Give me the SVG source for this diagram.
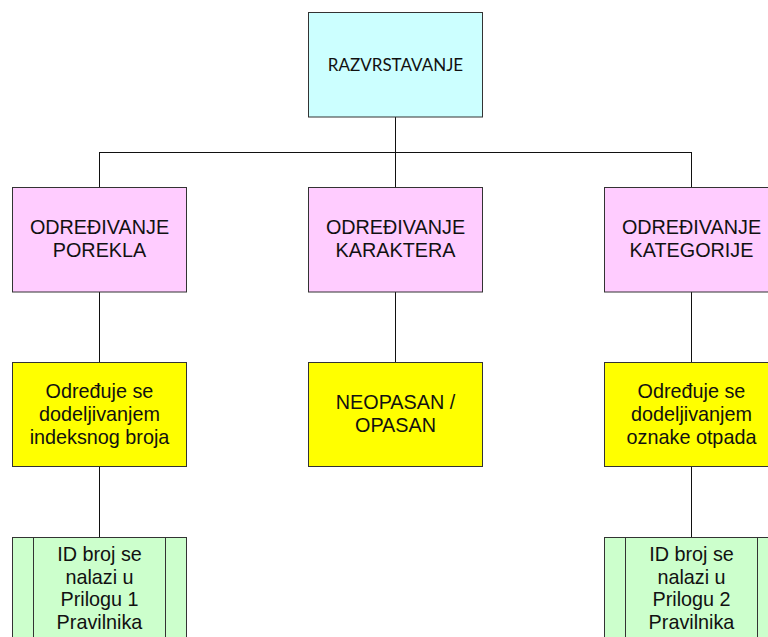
<svg xmlns="http://www.w3.org/2000/svg" width="768" height="637" viewBox="0 0 768 637">
<style>
.box{stroke:#333;stroke-width:1}
.cyan{fill:#CCFFFF}
.pink{fill:#FFCCFF}
.yellow{fill:#FFFF00}
.green{fill:#CCFFCC}
.t{font-family:"Liberation Sans",Arial,sans-serif;font-size:19.8px;fill:#111;text-anchor:middle}
.t2{font-family:"Liberation Sans",Arial,sans-serif;font-size:19.8px;fill:#111;text-anchor:middle}
.top{font-family:Lato,"Open Sans",sans-serif;font-size:17px;fill:#111;text-anchor:middle}
.c{stroke:#111;stroke-width:1;fill:none}
</style>
<rect width="768" height="637" fill="#fff"/>
<g id="connectors">
<line class="c" x1="395.5" y1="117" x2="395.5" y2="187"/>
<line class="c" x1="99.5" y1="152.5" x2="691.5" y2="152.5" stroke="#444"/>
<line class="c" x1="99.5" y1="152" x2="99.5" y2="187"/>
<line class="c" x1="691.5" y1="152" x2="691.5" y2="187"/>
<line class="c" x1="99.5" y1="292" x2="99.5" y2="362"/>
<line class="c" x1="395.5" y1="292" x2="395.5" y2="362"/>
<line class="c" x1="691.5" y1="292" x2="691.5" y2="362"/>
<line class="c" x1="99.5" y1="466" x2="99.5" y2="537"/>
<line class="c" x1="691.5" y1="466" x2="691.5" y2="537"/>
</g>
<g id="razvrstavanje">
<rect class="box cyan" x="308.5" y="12.5" width="174" height="104.5"/>
<text class="top" x="395.5" y="71">RAZVRSTAVANJE</text>
</g>
<g id="porekla">
<rect class="box pink" x="12.5" y="187.5" width="174" height="104.5"/>
<text class="t" x="99.5" y="234">ODREĐIVANJE</text>
<text class="t" x="99.5" y="257">POREKLA</text>
</g>
<g id="karaktera">
<rect class="box pink" x="308.5" y="187.5" width="174" height="104.5"/>
<text class="t" x="395.5" y="234">ODREĐIVANJE</text>
<text class="t" x="395.5" y="257">KARAKTERA</text>
</g>
<g id="kategorije">
<rect class="box pink" x="604.5" y="187.5" width="174" height="104.5"/>
<text class="t" x="691.5" y="234">ODREĐIVANJE</text>
<text class="t" x="691.5" y="257">KATEGORIJE</text>
</g>
<g id="indeksni">
<rect class="box yellow" x="12.5" y="362.5" width="174" height="104"/>
<text class="t2" x="99.5" y="397.5">Određuje se</text>
<text class="t2" x="99.5" y="420.8">dodeljivanjem</text>
<text class="t2" x="99.5" y="444">indeksnog broja</text>
</g>
<g id="neopasan">
<rect class="box yellow" x="308.5" y="362.5" width="174" height="104"/>
<text class="t2" x="395.5" y="409.3">NEOPASAN /</text>
<text class="t2" x="395.5" y="431.7">OPASAN</text>
</g>
<g id="oznaka">
<rect class="box yellow" x="604.5" y="362.5" width="174" height="104"/>
<text class="t2" x="691.5" y="397.5">Određuje se</text>
<text class="t2" x="691.5" y="420.8">dodeljivanjem</text>
<text class="t2" x="691.5" y="444">oznake otpada</text>
</g>
<g id="prilog1">
<rect class="box green" x="12.5" y="537.5" width="174" height="110"/>
<line class="box" x1="33.5" y1="537.5" x2="33.5" y2="647"/>
<line class="box" x1="165.5" y1="537.5" x2="165.5" y2="647"/>
<text class="t2" x="99.5" y="561">ID broj se</text>
<text class="t2" x="99.5" y="583.5">nalazi u</text>
<text class="t2" x="99.5" y="606">Prilogu 1</text>
<text class="t2" x="99.5" y="629">Pravilnika</text>
</g>
<g id="prilog2">
<rect class="box green" x="604.5" y="537.5" width="174" height="110"/>
<line class="box" x1="625.5" y1="537.5" x2="625.5" y2="647"/>
<line class="box" x1="757.5" y1="537.5" x2="757.5" y2="647"/>
<text class="t2" x="691.5" y="561">ID broj se</text>
<text class="t2" x="691.5" y="583.5">nalazi u</text>
<text class="t2" x="691.5" y="606">Prilogu 2</text>
<text class="t2" x="691.5" y="629">Pravilnika</text>
</g>
</svg>
